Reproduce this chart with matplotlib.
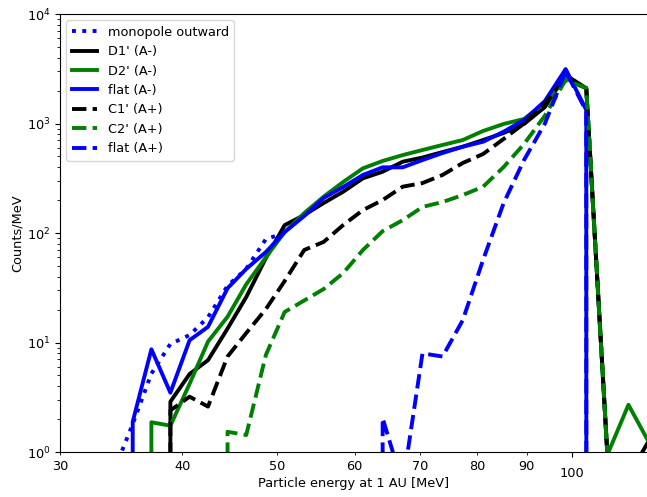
import matplotlib
matplotlib.use('Agg')
from matplotlib import pyplot as plt
from matplotlib.ticker import FixedLocator

plt.rcParams['font.size'] = 9.3

# bin energies [MeV]
energy = [34.1, 35.6, 37.2, 38.9, 40.7, 42.5, 44.5, 46.5, 48.7, 50.9,
          53.3, 55.8, 58.4, 61.2, 64.1, 67.2, 70.4, 73.8, 77.4, 81.2,
          85.2, 89.4, 93.9, 98.6, 103.5, 108.8, 114.3, 120.1]

monopole = [0.69, 1.8, 5.2, 9.7, 11.7, 17, 33, 47, 88, 100]

d1_minus = [0, 0, 0, 2.88, 5.16, 6.9, 13.4, 26, 59, 118,
            146, 188, 238, 316, 363, 448, 489, 549, 614, 707,
            819, 990, 1415, 2770, 2100, 0.9, 0.6, 1.3]
d2_minus = [0, 0, 1.87, 1.74, 4.2, 10.2, 17.2, 34, 60, 102,
            152, 215, 292, 390, 455, 515, 573, 637, 707, 855,
            990, 1100, 1530, 2590, 2100, 0.95, 2.7, 1.2]
flat_minus = [0, 1.89, 8.67, 3.48, 10.5, 13.9, 31.3, 47, 67, 102,
              143, 209, 263, 339, 398, 398, 464, 538, 614, 682,
              841, 1077, 1604, 3140, 1330, 0, 0, 0]
c1_plus = [0, 0, 0, 2.4, 3.2, 2.6, 7.45, 12.2, 20.2, 36.4,
           70, 83, 118, 162, 200, 265, 286, 339, 436, 527,
           722, 1000, 1530, 2660, 2100, 0.9, 0, 0]
c2_plus = [0, 0, 0, 0, 0, 0, 1.53, 1.43, 7.7, 19,
           24.2, 30.8, 43, 70, 104, 131, 173, 192, 222, 265,
           400, 650, 1180, 2500, 2100, 0.9, 0, 0]
flat_plus = [0, 0, 0, 0, 0, 0, 0, 0, 0, 0,
             0, 0, 0, 0, 2.04, 0.5, 7.96, 7.45, 16, 57,
             187, 464, 1000, 3000, 1300, 0, 0, 0]

xticks_minor = [30, 40, 50, 60, 70, 80, 90]

fig = plt.figure(figsize=(6.47, 4.97), dpi=100)
ax = fig.add_axes([0.0927, 0.0905, 0.9073, 0.8813])

lw = 2.8
ax.plot(energy[:len(monopole)], monopole, color='b', ls=':', lw=lw, label='monopole outward')
ax.plot(energy, d1_minus, color='k', ls='-', lw=lw, label="D1' (A-)")
ax.plot(energy, d2_minus, color='g', ls='-', lw=lw, label="D2' (A-)")
ax.plot(energy, flat_minus, color='b', ls='-', lw=lw, label='flat (A-)')
ax.plot(energy, c1_plus, color='k', ls='--', lw=lw, label="C1' (A+)")
ax.plot(energy, c2_plus, color='g', ls='--', lw=lw, label="C2' (A+)")
ax.plot(energy, flat_plus, color='b', ls='--', lw=lw, label='flat (A+)')

ax.set_xscale('log')
ax.set_yscale('log', nonpositive='clip')
ax.set_xlim(30, 119.4)
ax.set_ylim(1, 1e4)

ax.xaxis.set_major_locator(FixedLocator([100]))
ax.xaxis.set_minor_locator(FixedLocator(xticks_minor))
ax.set_xticklabels(['100'])
ax.set_xticklabels([str(v) for v in xticks_minor], minor=True)
ax.tick_params(axis='x', which='major', pad=7)
ax.tick_params(axis='x', which='minor', pad=4)

ax.spines['right'].set_visible(False)

ax.set_xlabel('Particle energy at 1 AU [MeV]', labelpad=-2)
ax.set_ylabel('Counts/MeV', labelpad=2)
ax.legend(loc='upper left')

fig.savefig('out.png', dpi=100)
plt.close()
